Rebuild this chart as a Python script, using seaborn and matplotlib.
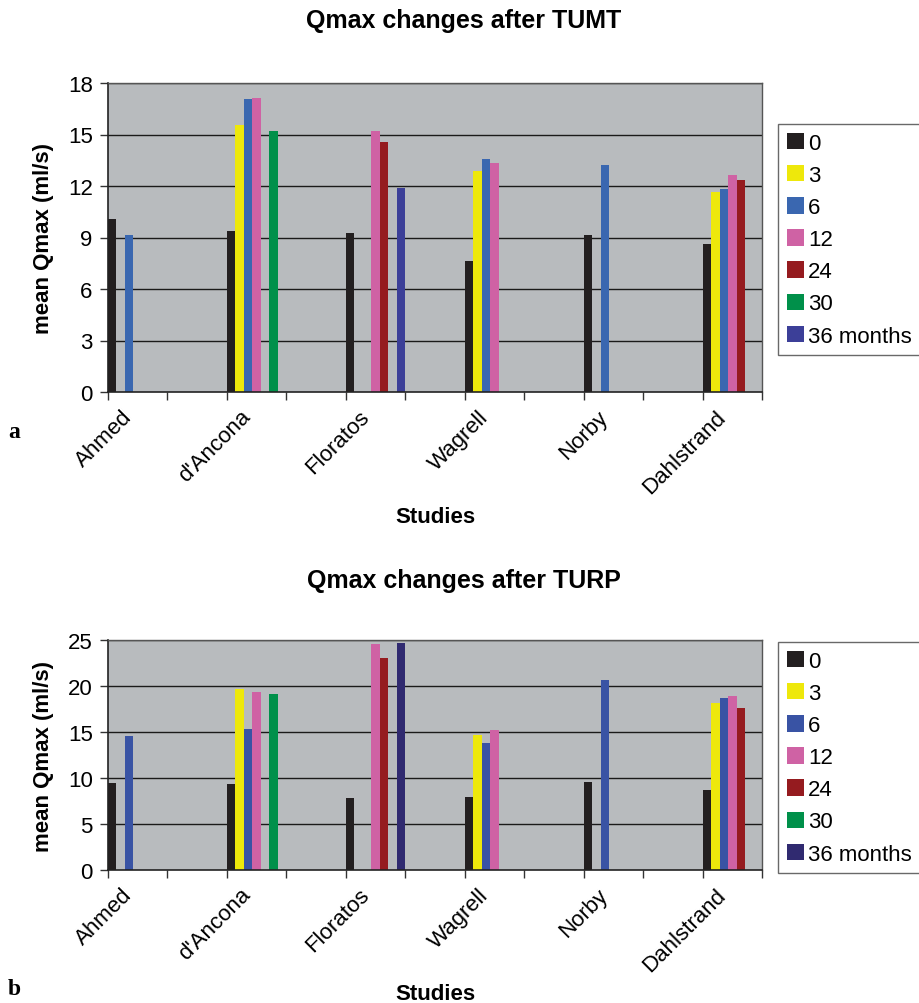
import numpy as np
import pandas as pd
import matplotlib
matplotlib.use("Agg")
import matplotlib.pyplot as plt
import seaborn as sns

sns.set_style("white")
plt.rcParams['font.family'] = ['Liberation Sans', 'DejaVu Sans']
plt.rcParams['text.color'] = 'black'
plt.rcParams['axes.labelcolor'] = 'black'
plt.rcParams['xtick.color'] = 'black'
plt.rcParams['ytick.color'] = 'black'

studies = ["Ahmed", "d'Ancona", "Floratos", "Wagrell", "Norby", "Dahlstrand"]
months = ["0", "3", "6", "12", "24", "30", "36 months"]

# TUMT values (rows: studies, cols: months); NaN = not reported
tumt_ahmed = [10.1, np.nan, 9.15, np.nan, np.nan, np.nan, np.nan]
tumt_dancona = [9.35, 15.55, 17.05, 17.15, np.nan, 15.2, np.nan]
tumt_floratos = [9.25, np.nan, np.nan, 15.2, 14.55, np.nan, 11.9]
tumt_wagrell = [7.65, 12.85, 13.55, 13.35, np.nan, np.nan, np.nan]
tumt_norby = [9.15, np.nan, 13.25, np.nan, np.nan, np.nan, np.nan]
tumt_dahlstrand = [8.65, 11.65, 11.85, 12.65, 12.35, np.nan, np.nan]

# TURP values
turp_ahmed = [9.5, np.nan, 14.6, np.nan, np.nan, np.nan, np.nan]
turp_dancona = [9.35, 19.7, 15.3, 19.35, np.nan, 19.15, np.nan]
turp_floratos = [7.8, np.nan, np.nan, 24.55, 23.05, np.nan, 24.7]
turp_wagrell = [7.9, 14.65, 13.8, 15.2, np.nan, np.nan, np.nan]
turp_norby = [9.6, np.nan, 20.7, np.nan, np.nan, np.nan, np.nan]
turp_dahlstrand = [8.65, 18.15, 18.65, 18.9, 17.65, np.nan, np.nan]

tumt_rows = [tumt_ahmed, tumt_dancona, tumt_floratos, tumt_wagrell, tumt_norby, tumt_dahlstrand]
turp_rows = [turp_ahmed, turp_dancona, turp_floratos, turp_wagrell, turp_norby, turp_dahlstrand]

tumt_yticks = [0, 3, 6, 9, 12, 15, 18]
turp_yticks = [0, 5, 10, 15, 20, 25]

pal_top = ["#231F20", "#EEE80B", "#3A67B0", "#CF62A4", "#951B1F", "#00904A", "#3C3F98"]
pal_bot = ["#231F20", "#EEE80B", "#3953A4", "#CF62A4", "#951B1F", "#00904A", "#302A70"]

# interleave blank categories between studies
order = []
for i, s in enumerate(studies):
    order.append(s)
    if i < len(studies) - 1:
        order.append(" " * (i + 1))


def make_df(rows):
    recs = []
    for s, vals in zip(studies, rows):
        for m, v in zip(months, vals):
            if not np.isnan(v):
                recs.append({"study": s, "month": m, "value": v})
    return pd.DataFrame(recs)


fig = plt.figure(figsize=(9.2, 10.04), dpi=100)
ax1 = fig.add_axes([108 / 920, 1 - 393 / 1004, 654 / 920, 309 / 1004])
ax2 = fig.add_axes([108 / 920, 1 - 871 / 1004, 654 / 920, 230 / 1004])

FS = 16


def draw(ax, rows, pal, yticks, title, leg_top, tpad):
    df = make_df(rows)
    sns.barplot(data=df, x="study", y="value", hue="month", order=order,
                hue_order=months, palette=pal, width=1.0, saturation=1,
                edgecolor="none", linewidth=0, ax=ax, errorbar=None)
    ax.set_facecolor("#B8BBBE")
    ax.set_xlim(-0.5, len(order) - 0.5)
    ax.set_ylim(yticks[0], yticks[-1])
    ax.set_yticks(yticks)
    ax.set_yticklabels([str(t) for t in yticks], fontsize=FS)
    for t in yticks[1:]:
        ax.axhline(t, color="#1a1a1a", lw=1.0, zorder=0.5)
    ax.set_axisbelow(True)
    # major ticks at category boundaries, labels near study centres
    ax.set_xticks(np.arange(-0.5, len(order), 1.0))
    ax.set_xticklabels([])
    ax.set_xticks(np.arange(0, len(order), 2) - 0.28, minor=True)
    ax.set_xticklabels(studies, minor=True, rotation=45, ha="right",
                       rotation_mode="anchor", fontsize=FS)
    ax.tick_params(axis="x", which="major", direction="out", length=6,
                   width=1, color="#333333", bottom=True)
    ax.tick_params(axis="x", which="minor", length=0, pad=10, bottom=True)
    ax.tick_params(axis="y", direction="out", length=6, width=1,
                   color="#333333", left=True, pad=5)
    for side in ["left", "bottom"]:
        ax.spines[side].set_color("#222222")
        ax.spines[side].set_linewidth(1.2)
    for side in ["top", "right"]:
        ax.spines[side].set_color("#555555")
        ax.spines[side].set_linewidth(1.0)
    ax.set_xlabel("Studies", fontsize=FS, fontweight="bold")
    ax.set_ylabel("mean Qmax (ml/s)", fontsize=FS, fontweight="bold", labelpad=10)
    ax.set_title(title, fontsize=18, fontweight="bold", pad=tpad,
                 x=(464 - 108) / 654)
    handles, labels = ax.get_legend_handles_labels()
    lg = ax.get_legend()
    if lg is not None:
        lg.remove()
    leg = fig.legend(handles, labels, loc="upper left",
                     bbox_to_anchor=(778 / 920, 1 - leg_top / 1004),
                     bbox_transform=fig.transFigure, borderaxespad=0,
                     fontsize=FS, frameon=True, fancybox=False,
                     handlelength=0.75, handleheight=0.75, handletextpad=0.2,
                     labelspacing=0.5, borderpad=0.4, edgecolor="#444444")
    leg.get_frame().set_linewidth(1.0)
    return leg


draw(ax1, tumt_rows, pal_top, tumt_yticks, "Qmax changes after TUMT", 125, 40)
draw(ax2, turp_rows, pal_bot, turp_yticks, "Qmax changes after TURP", 643, 38)

ax1.xaxis.set_label_coords(0.5, -0.37)
ax2.xaxis.set_label_coords(0.5, -0.49)

fig.text(8 / 920, 1 - 433 / 1004, "a", fontsize=17, fontweight="bold",
         family=["Liberation Serif", "DejaVu Serif"], va="center")
fig.text(8 / 920, 1 - 990 / 1004, "b", fontsize=17, fontweight="bold",
         family=["Liberation Serif", "DejaVu Serif"], va="center")

fig.savefig("out.png", dpi=100)
